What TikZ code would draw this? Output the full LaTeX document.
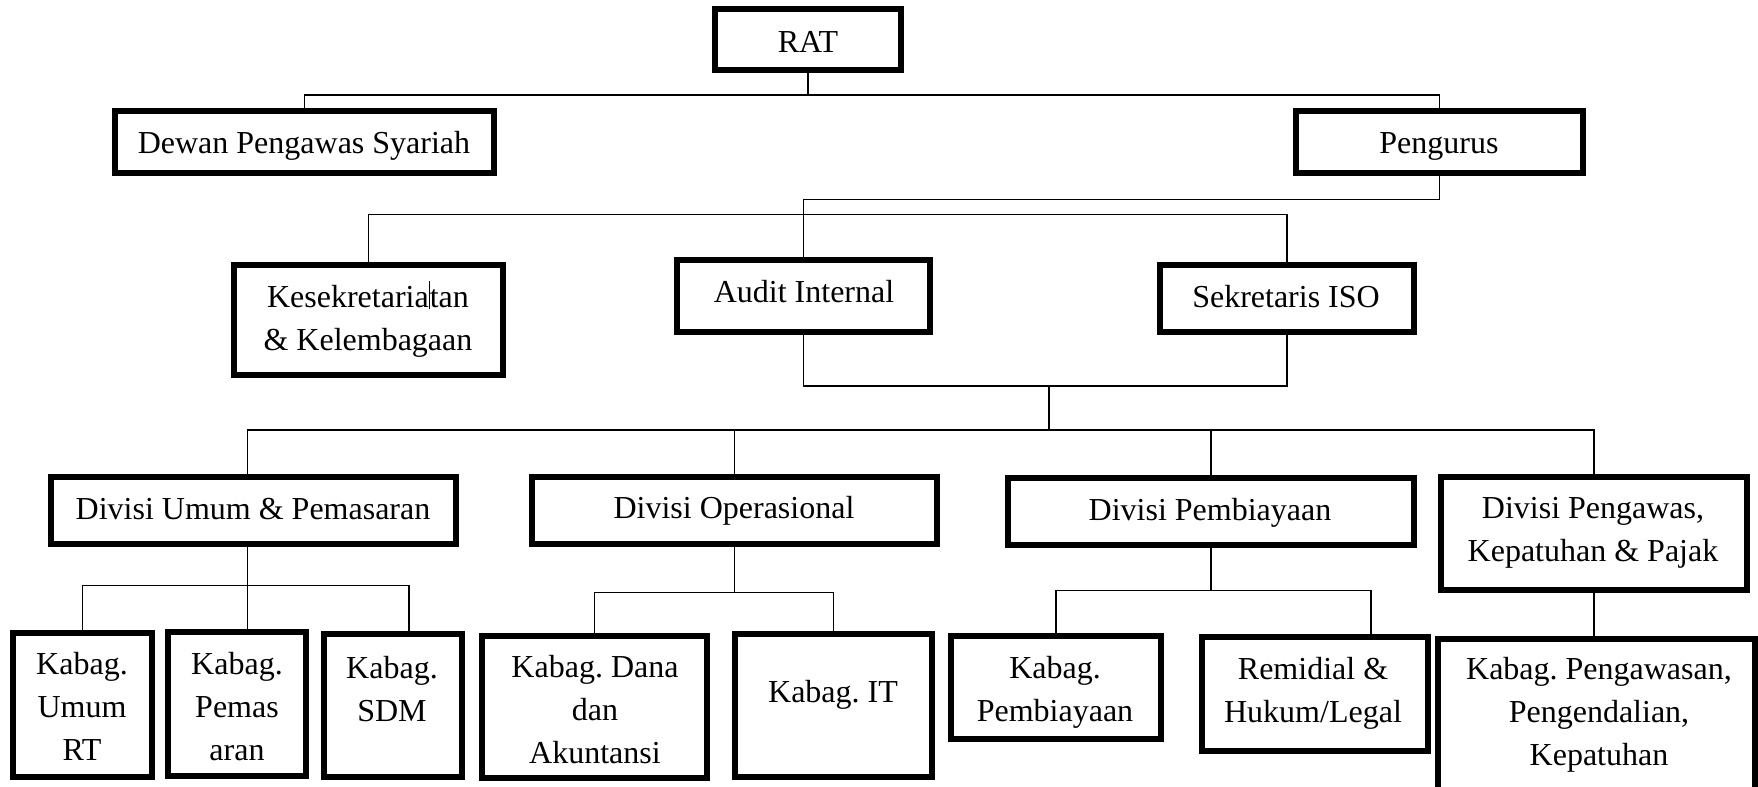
\documentclass[tikz,border=0pt]{standalone}
\usepackage{fontspec}
\setmainfont{Liberation Serif}
\usetikzlibrary{fit}

\tikzset{
  box/.style={draw, line width=2.6pt, inner sep=0pt},
  link/.style={draw, line width=0.8pt},
  txt/.style={anchor=base, inner sep=0pt, align=center,
    font=\fontsize{16}{21.5}\selectfont\frenchspacing}
}

\begin{document}
\begin{tikzpicture}[x=0.5pt,y=-0.5pt]
\useasboundingbox (0,0) rectangle (1758,787);
\clip (0,0) rectangle (1758,787);
% boxes
\node[box, fit={(715,9) (901,70)}] (rat) {};
\node[box, fit={(115,111) (494,173)}] (dps) {};
\node[box, fit={(1296,111) (1583,173)}] (peng) {};
\node[box, fit={(234,265) (503,375)}] (kes) {};
\node[box, fit={(677,260) (930,332)}] (audit) {};
\node[box, fit={(1160,265) (1414,332)}] (siso) {};
\node[box, fit={(51,477) (456,544)}] (du) {};
\node[box, fit={(532,477) (937,544)}] (dop) {};
\node[box, fit={(1008,478) (1414,545)}] (dpb) {};
\node[box, fit={(1441,477) (1747,590)}] (dpk) {};
\node[box, fit={(13,633) (152,777)}] (kur) {};
\node[box, fit={(168,632) (306,776)}] (kpm) {};
\node[box, fit={(324,634) (462,777)}] (ksdm) {};
\node[box, fit={(482,636) (707,778)}] (kdana) {};
\node[box, fit={(735,634) (932,777)}] (kit) {};
\node[box, fit={(951,636) (1161,739)}] (kpb) {};
\node[box, fit={(1202,637) (1428,751)}] (rem) {};
\node[box, fit={(1438,639) (1755,800)}] (kpeng) {};
% texts (base = last line)
\node[txt] (t-rat) at (808,53) {RAT};
\node[txt] (t-dps) at (304,153) {Dewan Pengawas Syariah};
\node[txt] (t-peng) at (1439,153) {Pengurus};
\node[txt] (t-kes) at (368,350) {Kesekretaria\rule[-0.05em]{0.5pt}{0.85em}tan\\\& Kelembagaan};
\node[txt] (t-audit) at (804,302) {Audit Internal};
\node[txt] (t-siso) at (1286,307) {Sekretaris ISO};
\node[txt] (t-du) at (253,519) {Divisi Umum \& Pemasaran};
\node[txt] (t-dop) at (734,518) {Divisi Operasional};
\node[txt] (t-dpb) at (1210,520) {Divisi Pembiayaan};
\node[txt] (t-dpk) at (1593,561) {Divisi Pengawas,\\Kepatuhan \& Pajak};
\node[txt] (t-kur) at (82,760) {Kabag.\\Umum\\RT};
\node[txt] (t-kpm) at (237,760) {Kabag.\\Pemas\\aran};
\node[txt] (t-ksdm) at (392,721) {Kabag.\\SDM};
\node[txt] (t-kdana) at (595,763) {Kabag. Dana\\dan\\Akuntansi};
\node[txt] (t-kit) at (833,702) {Kabag. IT};
\node[txt] (t-kpb) at (1055,721) {Kabag.\\Pembiayaan};
\node[txt] (t-rem) at (1313,722) {Remidial \&\\Hukum/Legal};
\node[txt] (t-kpeng) at (1599,765) {Kabag. Pengawasan,\\Pengendalian,\\Kepatuhan};
% connectors
\coordinate (b1) at (808,95);
\draw[link] (rat) -- (b1);
\draw[link] (dps.north) |- (b1) -| (peng.north);
\draw[link] (peng.south) -- ++(0,24) -| (audit.north);
\draw[link] (kes.north) -- ++(0,-48) -| (siso.north);
\coordinate (b2) at (1049,386);
\coordinate (b3) at (1049,430);
\draw[link] (audit.south) |- (b2) -| (siso.south);
\draw[link] (b2) -- (b3);
\draw[link] ([xshift=-3pt]du.north) |- (b3) -| (dpk.north);
\draw[link] (dop.north) -- (dop.north |- b3);
\draw[link] (dpb.north) -- (dpb.north |- b3);
\draw[link] (kur.north) -- ++(0,-45) -| ([xshift=8pt]ksdm.north);
\draw[link] ([xshift=-3pt]du.south) -- ([xshift=-3pt]du.south |- kpm.north);
\draw[link] (dop.south) -- ++(0,46) coordinate (b4);
\draw[link] (kdana.north) |- (b4) -| (kit.north);
\draw[link] (dpb.south) -- ++(0,43) coordinate (b5);
\draw[link] (kpb.north) |- (b5) -| ([xshift=28pt]rem.north);
\draw[link] (dpk.south) -- (dpk.south |- kpeng.north);
\end{tikzpicture}
\end{document}
